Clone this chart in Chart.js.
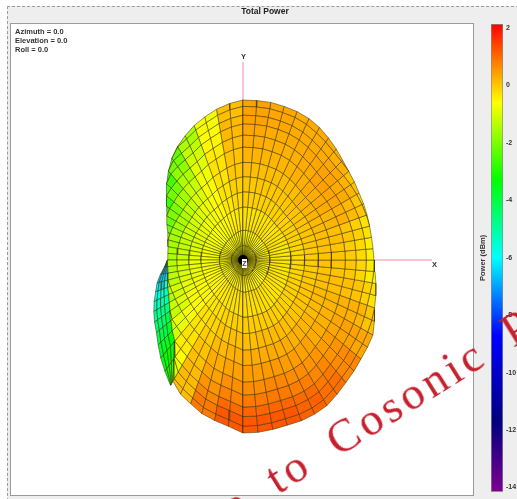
<!DOCTYPE html>
<html>
<head>
<meta charset="utf-8">
<title>Total Power</title>
<script src="https://cdn.jsdelivr.net/npm/chart.js@4"></script>
<style>
  html, body { margin: 0; padding: 0; background: #fff; }
  body { position: relative; width: 517px; height: 499px; overflow: hidden; font-family: "Liberation Sans", Arial, sans-serif; }
  #panel { position: absolute; left: 7px; top: 6px; right: -2px; bottom: -2px; background: #eeeeee; border-left: 1px dashed #9a9a9a; border-top: 1px dashed #9a9a9a; }
  #plotBox { position: absolute; left: 11px; top: 24px; width: 462px; height: 471px; background: #fff; outline: 1px solid #9a9a9a; }
  #patternChart { position: absolute; left: 11px; top: 24px; filter: blur(0.4px); }
  #barChart { position: absolute; left: 475px; top: 15px; }
  .lbl { position: absolute; font-size: 7.5px; font-weight: bold; color: #333; white-space: nowrap; line-height: 9px; }
  #title { left: 0; width: 530px; top: 7px; text-align: center; font-size: 8.5px; color: #222; }
  #zBox { position: absolute; left: 242px; top: 259px; width: 5px; height: 9px; background: #fff; font-size: 7px; line-height: 9px; text-align: center; font-weight: bold; color: #444; }
  #watermark { position: absolute; left: 225px; top: 489px; font-family: "Liberation Serif", serif; font-size: 46px; line-height: 51px; letter-spacing: 4px; word-spacing: 12px; color: #c6202e; white-space: nowrap; transform-origin: 0 100%; transform: rotate(-32deg); }
</style>
</head>
<body>
<div id="panel"></div>
<div id="plotBox"></div>
<canvas id="patternChart" width="462" height="471"></canvas>
<canvas id="barChart" width="42" height="484"></canvas>
<div class="lbl" id="title">Total Power</div>
<div class="lbl" style="left:15px;top:27px">Azimuth = 0.0</div>
<div class="lbl" style="left:15px;top:36px">Elevation = 0.0</div>
<div class="lbl" style="left:15px;top:45px">Roll = 0.0</div>
<div class="lbl" style="left:241px;top:52px">Y</div>
<div class="lbl" style="left:432px;top:260px">X</div>
<div id="zBox">Z</div>
<div id="watermark">le to Cosonic P</div>

<script>
// Visible edge of the main lobe, one value every 5 degrees, clockwise from +Y
const rimRadius = [
  160, 160, 160, 159, 158, 156, 153, 149, 145, 141, 138, 136,
  134, 133, 132, 131, 130.5, 130.5, 131, 132.5, 135, 137.5, 140, 145,
  150, 152, 154, 157, 160, 164, 168, 170, 171, 171, 172, 173,
  173, 167, 163, 159, 153, 148, 140, 120, 106, 100, 94, 89,
  85, 82, 80, 78, 76, 75.5, 75.5, 75.5, 76, 78, 80, 84,
  88, 93, 100, 108, 116, 124, 131, 137, 143, 148, 153, 157
];

// Radius the rings are spaced against, wider than the rim where the mesh folds away
const ringRadius = [
  160, 160, 160, 159, 158, 156, 153, 150, 147, 145, 145, 145,
  145, 145, 145, 145, 145, 145, 145, 145, 145, 145, 146, 148,
  150, 152, 154, 157, 160, 164, 168, 170, 171, 171, 172, 173,
  173, 167, 163, 159, 153, 148, 143, 139, 136, 133, 131, 129,
  128, 127, 127, 127, 127, 127, 127, 127, 127, 127, 127, 127,
  127, 127, 128, 130, 132, 134, 136, 139, 144, 148, 153, 157
];

// Rings of the mesh as a share of ringRadius
const ringShare = [0.03, 0.09, 0.185, 0.33, 0.425, 0.52, 0.61, 0.705, 0.78, 0.85, 0.905, 0.96, 1];
// Which column of powerRows each ring band uses
const ringBand = [0, 0, 0, 1, 2, 3, 4, 5, 6, 7, 8, 9, 9];

// Power (dBm), one row per 10 degree sector, columns from centre to rim
const powerRows = [
  [-0.5, -0.3, -0.1, 0, 0.1, 0.2, 0.3, 0.35, 0.4, 0.4],
  [-0.5, -0.3, -0.1, 0, 0.1, 0.2, 0.25, 0.3, 0.35, 0.35],
  [-0.5, -0.3, -0.1, 0, 0.1, 0.2, 0.25, 0.3, 0.3, 0.3],
  [-0.5, -0.3, -0.1, 0, 0.1, 0.25, 0.3, 0.35, 0.3, 0.3],
  [-0.5, -0.3, -0.1, 0.05, 0.2, 0.3, 0.4, 0.4, 0.35, 0.25],
  [-0.5, -0.3, -0.1, 0.05, 0.2, 0.3, 0.35, 0.3, 0.2, 0.05],
  [-0.5, -0.3, -0.1, 0.05, 0.15, 0.2, 0.25, 0.15, 0, -0.2],
  [-0.5, -0.35, -0.15, 0, 0.1, 0.1, 0.05, -0.1, -0.3, -0.45],
  [-0.5, -0.35, -0.2, -0.05, 0.05, 0.05, -0.05, -0.2, -0.45, -0.6],
  [-0.5, -0.35, -0.2, -0.05, 0.05, 0.05, 0, -0.15, -0.4, -0.55],
  [-0.5, -0.35, -0.15, 0, 0.1, 0.1, 0.1, 0.05, -0.1, -0.3],
  [-0.5, -0.3, -0.1, 0.05, 0.15, 0.2, 0.25, 0.25, 0.2, 0.05],
  [-0.5, -0.3, -0.1, 0.05, 0.15, 0.25, 0.35, 0.4, 0.4, 0.35],
  [-0.5, -0.3, -0.1, 0.05, 0.2, 0.3, 0.45, 0.55, 0.65, 0.7],
  [-0.5, -0.3, -0.1, 0.1, 0.25, 0.4, 0.55, 0.7, 0.85, 0.95],
  [-0.45, -0.25, -0.05, 0.15, 0.3, 0.45, 0.65, 0.8, 1, 1.1],
  [-0.45, -0.25, -0.05, 0.15, 0.3, 0.5, 0.7, 0.85, 1.05, 1.2],
  [-0.45, -0.25, -0.05, 0.1, 0.3, 0.45, 0.65, 0.85, 1.05, 1.2],
  [-0.45, -0.25, -0.1, 0.1, 0.25, 0.4, 0.6, 0.75, 1, 1.2],
  [-0.5, -0.3, -0.15, 0, 0.15, 0.3, 0.4, 0.55, 0.7, 0.85],
  [-0.5, -0.35, -0.25, -0.15, -0.05, 0.05, 0.1, 0.15, 0.15, 0.1],
  [-0.5, -0.4, -0.35, -0.3, -0.3, -0.3, -0.4, -0.6, -0.8, -1.1],
  [-0.55, -0.5, -0.5, -0.55, -0.7, -0.85, -1.1, -1.3, -1.4, -1.4],
  [-0.6, -0.55, -0.6, -0.7, -0.95, -1.2, -1.4, -1.4, -1.4, -1.4],
  [-0.6, -0.6, -0.7, -0.85, -1.1, -1.4, -1.5, -1.5, -1.5, -1.5],
  [-0.6, -0.65, -0.8, -1, -1.3, -1.5, -1.5, -1.5, -1.5, -1.5],
  [-0.6, -0.7, -0.85, -1.1, -1.4, -1.6, -1.6, -1.6, -1.6, -1.6],
  [-0.6, -0.7, -0.9, -1.2, -1.5, -1.7, -1.7, -1.7, -1.7, -1.7],
  [-0.6, -0.75, -1, -1.3, -1.6, -1.9, -1.9, -1.9, -1.9, -1.9],
  [-0.6, -0.75, -0.95, -1.2, -1.6, -2.2, -2.6, -2.6, -2.6, -2.6],
  [-0.6, -0.7, -0.9, -1.1, -1.5, -2, -2.7, -2.8, -2.8, -2.8],
  [-0.6, -0.7, -0.8, -1, -1.3, -1.6, -2.1, -2.6, -2.8, -2.8],
  [-0.6, -0.65, -0.7, -0.8, -1, -1.2, -1.5, -1.8, -2.1, -2.3],
  [-0.55, -0.55, -0.55, -0.6, -0.65, -0.75, -0.9, -1.1, -1.3, -1.5],
  [-0.55, -0.45, -0.35, -0.3, -0.3, -0.3, -0.4, -0.5, -0.6, -0.7],
  [-0.5, -0.35, -0.2, -0.1, 0, 0.05, 0.1, 0.15, 0.15, 0.1]
];

// Back lobe peeking out on the left, from 210 to 270 degrees
const backAngles = [210, 215, 220, 225, 230, 235, 240, 245, 250, 255, 260, 265, 270];
const backRadius = [145, 136, 128, 120, 113, 108, 103, 98, 93, 89, 84, 79, 75.5];
const backShare = [0, 0.3, 0.55, 0.8, 1];
// Power per back lobe sector, columns from the main lobe edge outwards
const backPower = [
  [-2.8, -3, -3.1, -3.2],
  [-3.1, -3.3, -3.4, -3.5],
  [-3.4, -3.6, -3.7, -3.7],
  [-3.8, -4, -4.1, -4.1],
  [-4.2, -4.4, -4.5, -4.6],
  [-4.6, -4.8, -4.9, -4.9],
  [-5.1, -5.3, -5.3, -5.4],
  [-5.6, -5.7, -5.7, -5.8],
  [-6, -6.1, -6.2, -6.2],
  [-6.4, -6.5, -6.6, -6.6],
  [-6.8, -6.9, -7, -7],
  [-7.2, -7.3, -7.4, -7.4]
];

// Pink coordinate axes
const axisXLine = [{ x: 0, y: 0 }, { x: 189, y: 0 }];
const axisYLine = [{ x: 0, y: 0 }, { x: 0, y: 198 }];
// The mesh closes up to a black spot at the origin
const originPoint = [{ x: 0, y: 0 }];

// Colour bar
const powerTicks = [2, 0, -2, -4, -6, -8, -10, -12, -14];
const powerMin = -14.15;
const powerMax = 2.14;
const colourPower = [2.14, -0.6, -3.3, -6, -8.7, -11.7, -14.15];
const colourStops = [[255, 0, 0], [255, 255, 0], [0, 255, 0], [0, 255, 255], [0, 0, 255], [0, 0, 128], [128, 0, 144]];

const GRID_COLOR = 'rgba(50, 45, 0, 0.72)';
const AXIS_COLOR = '#f08aa0';
const STEP = 5;

// Devuelve el color de la barra para un valor de potencia
function powerColor(value) {
  let i = 0;
  while (i < colourPower.length - 2 && value < colourPower[i + 1]) i++;
  const t = (colourPower[i] - value) / (colourPower[i] - colourPower[i + 1]);
  const a = colourStops[i];
  const b = colourStops[i + 1];
  const mix = [0, 1, 2].map(k => Math.round(a[k] + (b[k] - a[k]) * t));
  return `rgb(${mix[0]}, ${mix[1]}, ${mix[2]})`;
}

function polarPoint(angle, radius) {
  const rad = angle * Math.PI / 180;
  return { x: radius * Math.sin(rad), y: radius * Math.cos(rad) };
}

function cellDataset(points, power) {
  return {
    data: points.concat([points[0]]),
    showLine: true,
    fill: 'shape',
    backgroundColor: powerColor(power),
    borderColor: GRID_COLOR,
    borderWidth: 0.7,
    pointRadius: 0,
    tension: 0
  };
}

function axisDataset(points) {
  return { data: points, showLine: true, fill: false, borderColor: AXIS_COLOR, borderWidth: 1, pointRadius: 0 };
}

// Radio de un anillo en un meridiano, recortado por el borde visible
function ringAt(i, share) {
  return Math.min(rimRadius[i], ringRadius[i] * share);
}

// Celdas de la malla principal
function mainCells() {
  const cells = [];
  const count = rimRadius.length;
  rimRadius.forEach((rim, i) => {
    const k = (i + 1) % count;
    const a0 = i * STEP;
    const a1 = (i + 1) * STEP;
    const power = powerRows[Math.floor(i / 2)];
    ringShare.forEach((share, j) => {
      const inner = j === 0 ? 0 : ringShare[j - 1];
      // Anillos que quedan detrás del borde no se ven
      if (ringAt(i, inner) >= rimRadius[i] && ringAt(k, inner) >= rimRadius[k]) return;
      cells.push(cellDataset([
        polarPoint(a0, ringAt(i, inner)),
        polarPoint(a0, ringAt(i, share)),
        polarPoint(a1, ringAt(k, share)),
        polarPoint(a1, ringAt(k, inner))
      ], power[ringBand[j]]));
    });
  });
  return cells;
}

// Celdas del lóbulo trasero, van desde el borde principal hacia afuera
function backCells() {
  const cells = [];
  backPower.forEach((row, i) => {
    const a0 = backAngles[i];
    const a1 = backAngles[i + 1];
    const m0 = rimRadius[a0 / STEP];
    const m1 = rimRadius[a1 / STEP];
    row.forEach((power, j) => {
      const r = (m, b, s) => m + (b - m) * s;
      cells.push(cellDataset([
        polarPoint(a0, r(m0, backRadius[i], backShare[j])),
        polarPoint(a0, r(m0, backRadius[i], backShare[j + 1])),
        polarPoint(a1, r(m1, backRadius[i + 1], backShare[j + 1])),
        polarPoint(a1, r(m1, backRadius[i + 1], backShare[j]))
      ], power));
    });
  });
  return cells;
}

const originDataset = { data: originPoint, pointRadius: 5, pointBackgroundColor: '#000', pointBorderWidth: 0 };

// Chart.js pinta primero el último dataset, la malla principal va al principio
new Chart(document.getElementById('patternChart'), {
  type: 'scatter',
  data: {
    datasets: [originDataset].concat(mainCells(), backCells(), [axisDataset(axisXLine), axisDataset(axisYLine)])
  },
  options: {
    responsive: false,
    animation: false,
    events: [],
    layout: { padding: 0, autoPadding: false },
    plugins: { legend: { display: false }, title: { display: false }, tooltip: { enabled: false } },
    scales: {
      x: { type: 'linear', min: -232, max: 230, display: false },
      y: { type: 'linear', min: -235, max: 236, display: false }
    }
  }
});

// Barra de color, un gradiente con las mismas paradas
new Chart(document.getElementById('barChart'), {
  type: 'bar',
  data: {
    labels: ['Power'],
    datasets: [{
      data: [[powerMin, powerMax]],
      yAxisID: 'power',
      barPercentage: 1,
      categoryPercentage: 1,
      borderWidth: 1,
      borderColor: '#8a8a8a',
      borderSkipped: false,
      backgroundColor: function(context) {
        const area = context.chart.chartArea;
        if (!area) return '#888';
        const grad = context.chart.ctx.createLinearGradient(0, area.top, 0, area.bottom);
        colourPower.forEach((v, i) => {
          const c = colourStops[i];
          grad.addColorStop((powerMax - v) / (powerMax - powerMin), `rgb(${c[0]}, ${c[1]}, ${c[2]})`);
        });
        return grad;
      }
    }]
  },
  options: {
    responsive: false,
    animation: false,
    events: [],
    layout: { padding: { top: 9, bottom: 4, left: 0, right: 0 } },
    plugins: { legend: { display: false }, tooltip: { enabled: false } },
    scales: {
      x: { display: false },
      label: {
        position: 'left',
        min: powerMin,
        max: powerMax,
        grid: { display: false },
        border: { display: false },
        ticks: { display: false },
        title: {
          display: true,
          text: 'Power (dBm)',
          color: '#333',
          font: { family: '"Liberation Sans"', size: 7.5, weight: 'bold' },
          padding: { top: 3, bottom: 0 }
        },
        afterFit: function(axis) { axis.width = 16; }
      },
      power: {
        position: 'right',
        min: powerMin,
        max: powerMax,
        grid: { display: false, drawTicks: false },
        border: { display: false },
        afterBuildTicks: function(axis) { axis.ticks = powerTicks.map(v => ({ value: v })); },
        ticks: {
          color: '#333',
          padding: 3,
          font: { family: '"Liberation Sans"', size: 7, weight: 'bold' },
          autoSkip: false,
          maxRotation: 0
        },
        afterFit: function(axis) { axis.width = 14; }
      }
    }
  }
});
</script>
</body>
</html>
